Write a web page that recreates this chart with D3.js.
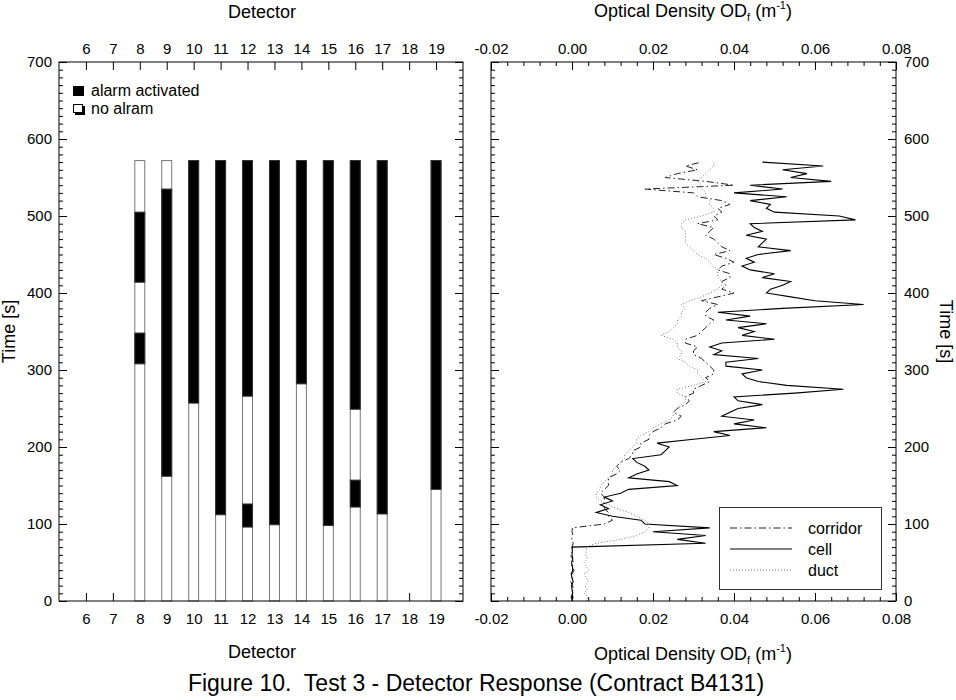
<!DOCTYPE html>
<html>
<head>
<meta charset="utf-8">
<title>Test 3 - Detector Response</title>
<script src="https://d3js.org/d3.v7.min.js"></script>
<style>
  body { margin: 0; background: #fff; }
  svg { font-family: "Liberation Sans", Arial, Helvetica, sans-serif; }
</style>
</head>
<body>
<div id="chart"></div>
<script>
// ---- left panel: detector alarm state (time in s) ----
const detectors = [8, 9, 10, 11, 12, 13, 14, 15, 16, 17, 19];
const alarmIntervals = [
  [[308, 348], [414, 505]],
  [[162, 535]],
  [[257, 572]],
  [[112, 572]],
  [[96, 126], [266, 572]],
  [[99, 572]],
  [[282, 572]],
  [[98, 572]],
  [[122, 157], [249, 572]],
  [[113, 572]],
  [[145, 572]]
];
const testEnd = 572;

const detectorTicks = [6, 7, 8, 9, 10, 11, 12, 13, 14, 15, 16, 17, 18, 19];
const timeTicks = [0, 100, 200, 300, 400, 500, 600, 700];
const odTicks = [-0.02, 0.00, 0.02, 0.04, 0.06, 0.08];

// ---- right panel: optical density (1/m) vs time ----
const times = [
  0, 5, 10, 15, 20, 25, 30, 35, 40, 45,
  50, 55, 60, 65, 70, 75, 80, 85, 90, 95,
  100, 105, 110, 115, 120, 125, 130, 135, 140, 145,
  150, 155, 160, 165, 170, 175, 180, 185, 190, 195,
  200, 205, 210, 215, 220, 225, 230, 235, 240, 245,
  250, 255, 260, 265, 270, 275, 280, 285, 290, 295,
  300, 305, 310, 315, 320, 325, 330, 335, 340, 345,
  350, 355, 360, 365, 370, 375, 380, 385, 390, 395,
  400, 405, 410, 415, 420, 425, 430, 435, 440, 445,
  450, 455, 460, 465, 470, 475, 480, 485, 490, 495,
  500, 505, 510, 515, 520, 525, 530, 535, 540, 545,
  550, 555, 560, 565, 570
];
const corridor = [
  0.0000, 0.0003, -0.0002, 0.0004, 0.0001, -0.0003, 0.0002, 0.0000, 0.0005, -0.0002,
  0.0003, 0.0001, -0.0004, 0.0002, 0.0000, 0.0003, -0.0001, 0.0002, 0.0000, 0.0001,
  0.008, 0.010, 0.009, 0.009, 0.008, 0.008, 0.008, 0.008, 0.007, 0.008,
  0.009, 0.009, 0.009, 0.011, 0.012, 0.011, 0.012, 0.014, 0.015, 0.015,
  0.017, 0.017, 0.019, 0.019, 0.020, 0.022, 0.023, 0.026, 0.027, 0.025,
  0.026, 0.028, 0.029, 0.028, 0.030, 0.030, 0.032, 0.034, 0.033, 0.035,
  0.035, 0.034, 0.033, 0.032, 0.030, 0.030, 0.031, 0.028, 0.028, 0.031,
  0.032, 0.033, 0.034, 0.035, 0.033, 0.033, 0.034, 0.036, 0.032, 0.036,
  0.040, 0.037, 0.038, 0.037, 0.039, 0.039, 0.036, 0.037, 0.040, 0.038,
  0.035, 0.039, 0.037, 0.036, 0.035, 0.033, 0.034, 0.035, 0.031, 0.036,
  0.035, 0.037, 0.036, 0.039, 0.037, 0.031, 0.030, 0.018, 0.040, 0.033,
  0.023, 0.026, 0.031, 0.028, 0.032
];
const cell = [
  0.0001, -0.0002, 0.0002, 0.0000, -0.0001, 0.0003, 0.0000, -0.0002, 0.0002, 0.0001,
  -0.0001, 0.0002, 0.0000, 0.0001, 0.0000, 0.033, 0.026, 0.033, 0.020, 0.034,
  0.018, 0.017, 0.010, 0.006, 0.009, 0.007, 0.010, 0.008, 0.012, 0.014,
  0.026, 0.024, 0.014, 0.016, 0.019, 0.018, 0.016, 0.015, 0.022, 0.023,
  0.024, 0.021, 0.030, 0.039, 0.035, 0.048, 0.040, 0.045, 0.037, 0.039,
  0.041, 0.047, 0.041, 0.040, 0.055, 0.067, 0.053, 0.046, 0.043, 0.042,
  0.047, 0.038, 0.038, 0.046, 0.035, 0.037, 0.034, 0.037, 0.050, 0.042,
  0.045, 0.041, 0.048, 0.038, 0.044, 0.036, 0.052, 0.072, 0.060, 0.054,
  0.048, 0.049, 0.052, 0.054, 0.047, 0.050, 0.044, 0.042, 0.045, 0.043,
  0.046, 0.054, 0.046, 0.047, 0.048, 0.043, 0.047, 0.045, 0.044, 0.070,
  0.066, 0.050, 0.048, 0.049, 0.044, 0.053, 0.040, 0.052, 0.044, 0.064,
  0.054, 0.058, 0.052, 0.062, 0.047
];
const duct = [
  0.0035, 0.0040, 0.0030, 0.0038, 0.0032, 0.0040, 0.0036, 0.0030, 0.0042, 0.0035,
  0.0030, 0.0038, 0.0034, 0.0036, 0.0035, 0.006, 0.012, 0.016, 0.018, 0.019,
  0.019, 0.018, 0.016, 0.014, 0.011, 0.009, 0.007, 0.006, 0.006, 0.007,
  0.007, 0.008, 0.009, 0.010, 0.010, 0.011, 0.012, 0.013, 0.013, 0.014,
  0.015, 0.016, 0.016, 0.017, 0.019, 0.020, 0.022, 0.024, 0.025, 0.025,
  0.026, 0.027, 0.028, 0.028, 0.026, 0.026, 0.030, 0.033, 0.032, 0.031,
  0.031, 0.029, 0.028, 0.026, 0.027, 0.027, 0.026, 0.026, 0.025, 0.022,
  0.024, 0.025, 0.026, 0.026, 0.027, 0.027, 0.028, 0.027, 0.029, 0.032,
  0.034, 0.036, 0.037, 0.037, 0.036, 0.036, 0.036, 0.035, 0.034, 0.033,
  0.031, 0.030, 0.029, 0.028, 0.028, 0.028, 0.028, 0.027, 0.027, 0.028,
  0.032, 0.035, 0.035, 0.034, 0.034, 0.033, 0.033, 0.032, 0.032, 0.031,
  0.032, 0.033, 0.034, 0.035, 0.035
];

const width = 956, height = 700;
const plotTop = 62, plotBottom = 601;
const leftX = [59, 463], rightX = [491, 896];

const svg = d3.select("#chart")
  .append("svg")
  .attr("width", width)
  .attr("height", height)
  .style("background", "#fff");

const y = d3.scaleLinear().domain([0, 700]).range([plotBottom, plotTop]);
const xDet = d3.scaleLinear().domain([5, 20]).range(leftX);
const xOD = d3.scaleLinear().domain([-0.02, 0.08]).range(rightX);

function style(g, size) {
  g.select(".domain").remove();
  g.selectAll(".tick line").attr("stroke", "#000");
  g.selectAll(".tick text").attr("fill", "#000").style("font-size", size || "15px");
  g.attr("font-family", null);
}

// vertical time axes on both sides of a panel
function timeAxes(x0, x1, labelLeft) {
  const minor = d3.range(0, 701, 10);
  svg.append("g").attr("transform", `translate(${x0},0)`)
    .call(d3.axisLeft(y).tickValues(minor).tickSize(-4).tickFormat(""))
    .call(style);
  svg.append("g").attr("transform", `translate(${x1},0)`)
    .call(d3.axisRight(y).tickValues(minor).tickSize(-4).tickFormat(""))
    .call(style);
  svg.append("g").attr("transform", `translate(${x0},0)`)
    .call(d3.axisLeft(y).tickValues(timeTicks).tickSize(-8).tickPadding(7)
      .tickFormat(labelLeft ? d3.format("d") : ""))
    .call(style);
  svg.append("g").attr("transform", `translate(${x1},0)`)
    .call(d3.axisRight(y).tickValues(timeTicks).tickSize(-8).tickPadding(8)
      .tickFormat(labelLeft ? "" : d3.format("d")))
    .call(style);
}

// ---- left panel ----
timeAxes(leftX[0], leftX[1], true);

svg.append("g").attr("transform", `translate(0,${plotTop})`)
  .call(d3.axisTop(xDet).tickValues(detectorTicks).tickSize(-8).tickPadding(8))
  .call(style);
svg.append("g").attr("transform", `translate(0,${plotBottom})`)
  .call(d3.axisBottom(xDet).tickValues(detectorTicks).tickSize(-8).tickPadding(12))
  .call(style);

const barW = 0.37;
svg.append("g").selectAll("rect")
  .data(detectors)
  .join("rect")
  .attr("x", d => xDet(d - barW / 2))
  .attr("width", xDet(barW) - xDet(0))
  .attr("y", y(testEnd))
  .attr("height", y(0) - y(testEnd))
  .attr("fill", "#fff")
  .attr("stroke", "#777")
  .attr("stroke-width", 1);

const alarmRects = detectors.flatMap((d, i) => alarmIntervals[i].map(a => ({ d, s: a[0], e: a[1] })));
svg.append("g").selectAll("rect")
  .data(alarmRects)
  .join("rect")
  .attr("x", a => xDet(a.d - barW / 2))
  .attr("width", xDet(barW) - xDet(0))
  .attr("y", a => y(a.e))
  .attr("height", a => y(a.s) - y(a.e))
  .attr("fill", "#000")
  .attr("stroke", "#333")
  .attr("stroke-width", 1);

svg.append("rect")
  .attr("x", leftX[0]).attr("y", plotTop)
  .attr("width", leftX[1] - leftX[0]).attr("height", plotBottom - plotTop)
  .attr("fill", "none").attr("stroke", "#000");

// legend (left)
const legL = svg.append("g").style("font-size", "16px");
legL.append("rect").attr("x", 73).attr("y", 86).attr("width", 11).attr("height", 10).attr("fill", "#000");
legL.append("text").attr("x", 91).attr("y", 96).text("alarm activated");
legL.append("rect").attr("x", 75).attr("y", 106).attr("width", 10).attr("height", 9).attr("fill", "#000");
legL.append("rect").attr("x", 73.5).attr("y", 104.5).attr("width", 9).attr("height", 8).attr("fill", "#fff").attr("stroke", "#000");
legL.append("text").attr("x", 91).attr("y", 114).text("no alram");

// ---- right panel ----
timeAxes(rightX[0], rightX[1], false);

const odMinor = d3.range(-0.02, 0.0801, 0.004);
const odFmt = d => d.toFixed(2);
svg.append("g").attr("transform", `translate(0,${plotTop})`)
  .call(d3.axisTop(xOD).tickValues(odMinor).tickSize(-4).tickFormat(""))
  .call(style);
svg.append("g").attr("transform", `translate(0,${plotBottom})`)
  .call(d3.axisBottom(xOD).tickValues(odMinor).tickSize(-4).tickFormat(""))
  .call(style);
svg.append("g").attr("transform", `translate(0,${plotTop})`)
  .call(d3.axisTop(xOD).tickValues(odTicks).tickSize(-8).tickPadding(8).tickFormat(odFmt))
  .call(style);
svg.append("g").attr("transform", `translate(0,${plotBottom})`)
  .call(d3.axisBottom(xOD).tickValues(odTicks).tickSize(-8).tickPadding(12).tickFormat(odFmt))
  .call(style);

const series = [
  { name: "corridor", values: corridor, stroke: "#222", width: 1, dash: "7,3,1.5,3" },
  { name: "cell", values: cell, stroke: "#000", width: 1.1, dash: null },
  { name: "duct", values: duct, stroke: "#777", width: 1, dash: "1,2" }
];

const line = d3.line()
  .x(d => xOD(d[1]))
  .y(d => y(d[0]));

svg.append("g").selectAll("path")
  .data(series)
  .join("path")
  .attr("d", s => line(times.map((t, i) => [t, s.values[i]])))
  .attr("fill", "none")
  .attr("stroke", s => s.stroke)
  .attr("stroke-width", s => s.width)
  .attr("stroke-dasharray", s => s.dash);

svg.append("rect")
  .attr("x", rightX[0]).attr("y", plotTop)
  .attr("width", rightX[1] - rightX[0]).attr("height", plotBottom - plotTop)
  .attr("fill", "none").attr("stroke", "#000");

// legend (right)
const legR = svg.append("g").style("font-size", "16px");
legR.append("rect").attr("x", 719.5).attr("y", 507.5).attr("width", 162).attr("height", 82)
  .attr("fill", "#fff").attr("stroke", "#333");
series.forEach((s, i) => {
  const yy = 528 + i * 21;
  legR.append("line").attr("x1", 730).attr("x2", 792).attr("y1", yy).attr("y2", yy)
    .attr("stroke", s.stroke).attr("stroke-width", s.width).attr("stroke-dasharray", s.dash);
  legR.append("text").attr("x", 808).attr("y", yy + 6).text(s.name);
});

// ---- titles ----
const titles = svg.append("g").style("font-size", "18px").attr("text-anchor", "middle");
titles.append("text").attr("x", 262).attr("y", 18).text("Detector");
titles.append("text").attr("x", 262).attr("y", 658).text("Detector");

function odTitle(yy) {
  const t = titles.append("text").attr("x", 693).attr("y", yy);
  t.append("tspan").text("Optical Density OD");
  t.append("tspan").attr("dy", 4).style("font-size", "11px").text("f");
  t.append("tspan").attr("dy", -4).text(" (m");
  t.append("tspan").attr("dy", -8).style("font-size", "11px").text("-1");
  t.append("tspan").attr("dy", 8).text(")");
}
odTitle(17);
odTitle(660);

titles.append("text")
  .attr("transform", `translate(15,${(plotTop + plotBottom) / 2}) rotate(-90)`)
  .text("Time [s]");
titles.append("text")
  .attr("transform", `translate(940,${(plotTop + plotBottom) / 2}) rotate(90)`)
  .text("Time [s]");

svg.append("text")
  .attr("x", 476).attr("y", 691)
  .attr("text-anchor", "middle")
  .style("font-size", "23px")
  .style("white-space", "pre")
  .text("Figure 10.  Test 3 - Detector Response (Contract B4131)");
</script>
</body>
</html>
